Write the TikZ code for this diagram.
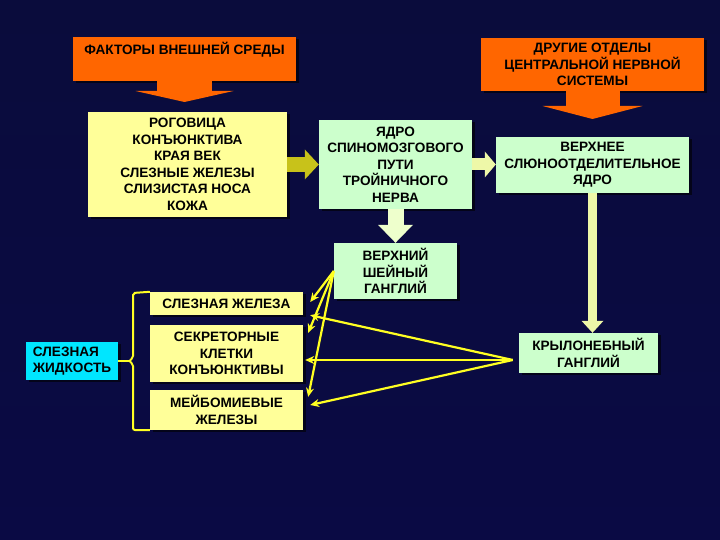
\documentclass[tikz,border=0pt]{standalone}
\usepackage{fontspec}
\setmainfont{Liberation Sans}
\usepackage{tikz}
\usetikzlibrary{arrows.meta,positioning,calc,shadows}
\definecolor{fondA}{HTML}{0A0C3C}
\definecolor{fondB}{HTML}{1C1F92}
\definecolor{fondC}{HTML}{0A0A44}
\definecolor{orangeF}{HTML}{FF6600}
\definecolor{jauneC}{HTML}{FFFF99}
\definecolor{vertC}{HTML}{CCFFCC}
\definecolor{cyanC}{HTML}{00E6FF}
\definecolor{oliveF}{HTML}{C8C21A}
\definecolor{paleJ}{HTML}{EEF8A8}
\definecolor{paleV}{HTML}{EEFFCC}
\definecolor{fleJ}{HTML}{FFFF22}
\tikzset{
  boite/.style={rectangle, fill=#1, align=center, inner sep=2pt,
                font=\bfseries\fontsize{13.6}{16.5}\selectfont,
                drop shadow={shadow xshift=2.5pt, shadow yshift=-2.5pt, fill=black, opacity=0.6}},
  grosse/.style n args={4}{draw=#1, line width=#2,
                -{Triangle[width=#3, length=#4, line width=0pt]}},
  fl/.style={-{Stealth[length=9pt, width=8pt]}, line width=2.2pt, draw=fleJ},
  accol/.style={line width=2pt, draw=fleJ, rounded corners=2pt},
}
\begin{document}
\begin{tikzpicture}[x=1pt, y=1pt]
    \useasboundingbox (0,0) rectangle (720,540);
    \shade[top color=fondA, middle color=fondB, bottom color=fondC] (0,0) rectangle (720,540);
    % sources
    \node[boite=orangeF, minimum width=223pt, text height=14pt, text depth=22pt, inner ysep=4pt] (fext) at (184.5,481) {ФАКТОРЫ ВНЕШНЕЙ СРЕДЫ};
    \node[boite=orangeF, minimum width=223pt, minimum height=53pt] (autres) at (592.5,475.5) {ДРУГИЕ ОТДЕЛЫ\\ЦЕНТРАЛЬНОЙ НЕРВНОЙ\\СИСТЕМЫ};
    \coordinate (pfext) at (184.5,438);
    \coordinate (pautres) at (592.5,421);
    % rangee du haut
    \node[boite=jauneC, minimum width=199pt, minimum height=105pt] (cornee) at (187.5,375.5) {РОГОВИЦА\\КОНЪЮНКТИВА\\КРАЯ ВЕК\\СЛЕЗНЫЕ ЖЕЛЕЗЫ\\СЛИЗИСТАЯ НОСА\\КОЖА};
    \node[boite=vertC, minimum width=153pt, minimum height=89pt] (noyau) at (395.5,375.5) {ЯДРО\\СПИНОМОЗГОВОГО\\ПУТИ\\ТРОЙНИЧНОГО\\НЕРВА};
    \node[boite=vertC, minimum width=193pt, minimum height=56pt] (salv) at (592.5,375) {ВЕРХНЕЕ\\СЛЮНООТДЕЛИТЕЛЬНОЕ\\ЯДРО};
    % ganglions
    \node[boite=vertC, minimum width=123pt, minimum height=56pt] (cerv) at (395.5,269) {ВЕРХНИЙ\\ШЕЙНЫЙ\\ГАНГЛИЙ};
    \node[boite=vertC, minimum width=139pt, minimum height=40pt] (ptg) at (588.5,187) {КРЫЛОНЕБНЫЙ\\ГАНГЛИЙ};
    \coordinate (hub) at ([shift={(-6,-7)}]ptg.west);
    % cibles
    \node[boite=jauneC, minimum width=153pt, minimum height=23pt] (glande) at (226.5,236.5) {СЛЕЗНАЯ ЖЕЛЕЗА};
    \node[boite=jauneC, minimum width=153pt, minimum height=57pt] (secr) at (226.5,186.5) {СЕКРЕТОРНЫЕ\\КЛЕТКИ\\КОНЪЮНКТИВЫ};
    \node[boite=jauneC, minimum width=153pt, minimum height=40pt] (meib) at (226.5,130) {МЕЙБОМИЕВЫЕ\\ЖЕЛЕЗЫ};
    \node[boite=cyanC, minimum width=92pt, minimum height=38pt, align=left] (larme) at (72,179) {СЛЕЗНАЯ\\ЖИДКОСТЬ};
    \coordinate (pointe) at (129,179);
    % grosses fleches
    \draw[grosse={orangeF}{55pt}{98pt}{11pt}] (fext.south) -- (pfext);
    \draw[grosse={orangeF}{54pt}{100pt}{13pt}] (autres.south) -- (pautres);
    \draw[grosse={oliveF}{15pt}{30pt}{14pt}] (cornee.east) -- (noyau.west);
    \draw[grosse={paleJ}{12pt}{26pt}{11pt}] (noyau.east) -- (noyau.east -| salv.west);
    \draw[grosse={paleV}{16pt}{35pt}{18pt}] (noyau.south) -- (cerv.north);
    \draw[grosse={paleJ}{9pt}{22pt}{12pt}] (salv.south) -- (salv.south |- ptg.north);
    % fleches fines
    \draw[fl] (cerv.west) -- ([shift={(7,1.5)}]glande.east);
    \draw[fl] (cerv.west) -- ([shift={(5,-8)}]secr.north east);
    \draw[fl] (cerv.west) -- ([shift={(5,-7)}]meib.north east);
    \draw[fl] (hub) -- ([xshift=7pt]glande.south east);
    \draw[fl] (hub) -- ([shift={(2,-6.5)}]secr.east);
    \draw[fl] (hub) -- ([shift={(7,5)}]meib.east);
    % accolade
    \draw[accol] (glande.north west) -- (133,247) -- (133,182) -- (pointe) -- (133,176) -- (133,110) -- (meib.south west);
    \draw[accol] (larme.east) -- (pointe);
\end{tikzpicture}
\end{document}
